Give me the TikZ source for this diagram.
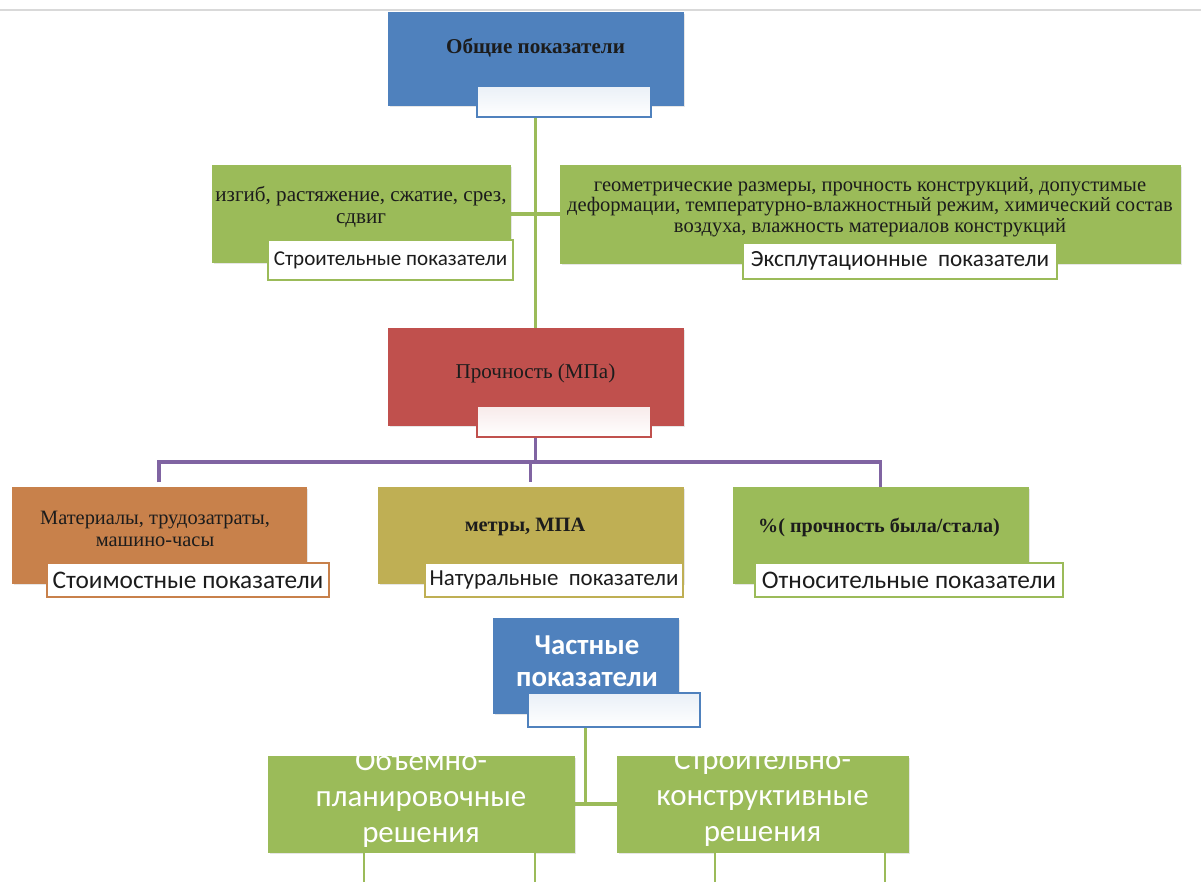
\documentclass[tikz,border=0pt]{standalone}
\usepackage{fontspec}
\setmainfont{Liberation Serif}
\newfontfamily\calib{Carlito}
\usepackage{xcolor}
\usetikzlibrary{shadows}
\definecolor{hdblue}{HTML}{4F81BD}
\definecolor{hdred}{HTML}{C0504D}
\definecolor{lfgreen}{HTML}{9BBB59}
\definecolor{brpurple}{HTML}{8064A2}
\definecolor{lfbrown}{HTML}{C8814B}
\definecolor{lfolive}{HTML}{BFAF54}
\definecolor{txtdark}{HTML}{1C1C1C}

\begin{document}
\begin{tikzpicture}[
  x=0.025cm,
  y=-0.025cm,
  sz/.style 2 args={minimum width=#1*0.025cm, minimum height=#2*0.025cm},
  box/.style={draw=#1, fill=#1, line width=0.6pt, inner sep=0pt,
    drop shadow={shadow xshift=1.2pt, shadow yshift=-1.2pt, opacity=0.2}},
  tab/.style={draw=#1, line width=1.6pt, top color=#1!12, bottom color=white, inner sep=0pt},
  lbl/.style={draw=#1, line width=1.5pt, fill=white, inner sep=0pt, text=txtdark},
  txt/.style={align=center, text=txtdark, inner sep=0pt},
  wtxt/.style={align=center, text=white, inner sep=0pt},
  link/.style={draw=#1, line width=2.2pt}
]
  \useasboundingbox (0,0) rectangle (1201,881);
  \clip (0,0) rectangle (1201,881);
  \draw[gray!30, line width=0.8pt] (0,10) -- (1201,10);

  \node[box=hdblue, sz={295}{93}] (gen) at (535.5,58.5) {};
  \node[tab=hdblue, sz={174}{31}] (gentab) at (564,101.5) {};
  \node[txt, font=\fontsize{15}{18}\selectfont\bfseries] (gentxt) at (535.5,48) {Общие показатели};

  \node[box=lfgreen, sz={298}{97}] (bld) at (361,214) {};
  \node[txt, font=\fontsize{15}{16}\selectfont] (bldtxt) at (361,207) {изгиб, растяжение, сжатие, срез,\\сдвиг};
  \node[lbl=lfgreen, sz={245}{40}, font=\calib\fontsize{15}{18}\selectfont] (bldlbl) at (390.5,260) {Строительные показатели};

  \node[box=lfgreen, sz={620}{98}] (exp) at (870,214) {};
  \node[txt, font=\fontsize{14.6}{14.6}\selectfont] (exptxt) at (870,207) {геометрические размеры, прочность конструкций, допустимые\\деформации, температурно-влажностный режим, химический состав\\воздуха, влажность материалов конструкций};
  \node[lbl=lfgreen, sz={314}{36}, font=\calib\fontsize{16.5}{19}\selectfont] (explbl) at (900,261) {Эксплутационные\ \ показатели};

  \node[box=hdred, sz={295}{97}] (str) at (535.5,376.5) {};
  \node[tab=hdred, sz={174}{31}] (strtab) at (564,421.5) {};
  \node[txt, font=\fontsize{15}{18}\selectfont] (strtxt) at (535.5,373) {Прочность (МПа)};

  \node[box=lfbrown, sz={294}{96}] (cost) at (159,535) {};
  \node[txt, font=\fontsize{14.5}{16}\selectfont] (costtxt) at (155,529) {Материалы, трудозатраты,\\машино-часы};
  \node[lbl=lfbrown, sz={282}{34}, font=\calib\fontsize{18}{21}\selectfont] (costlbl) at (188,580) {Стоимостные показатели};

  \node[box=lfolive, sz={305}{96}] (nat) at (530.5,535) {};
  \node[txt, font=\fontsize{14.5}{18}\selectfont\bfseries] (nattxt) at (525,527) {метры, МПА};
  \node[lbl=lfolive, sz={258}{34}, font=\calib\fontsize{16.3}{20}\selectfont] (natlbl) at (554,580) {Натуральные\ \ показатели};

  \node[box=lfgreen, sz={295}{96}] (rel) at (880.5,535) {};
  \node[txt, font=\fontsize{14.3}{18}\selectfont\bfseries] (reltxt) at (879,527) {\%( прочность была/стала)};
  \node[lbl=lfgreen, sz={308}{34}, font=\calib\fontsize{18}{21}\selectfont] (rellbl) at (909,580) {Относительные показатели};

  \node[box=hdblue, sz={185}{95}] (part) at (585.5,665.5) {};
  \node[tab=hdblue, sz={172}{34}] (parttab) at (614,710) {};
  \node[wtxt, font=\calib\bfseries\fontsize{20.5}{23}\selectfont] (parttxt) at (587,661) {Частные\\показатели};

  \node[box=lfgreen, sz={306}{96}] (plan) at (421,804) {};
  \node[lbl=lfgreen, sz={171}{48}] (plantab) at (449.5,876) {};
  \node[wtxt, font=\calib\fontsize{22}{25.6}\selectfont] (plantxt) at (421,798) {Объемно-\\планировочные\\решения};

  \node[box=lfgreen, sz={291}{96}] (cons) at (762.5,804) {};
  \node[lbl=lfgreen, sz={170}{48}] (constab) at (800,876) {};
  \node[wtxt, font=\calib\fontsize{22}{25.6}\selectfont] (constxt) at (762.5,798) {Строительно-\\конструктивные\\решения};

  \coordinate (fork) at (535.5,462);
  \coordinate (split) at (585.5,804);

  \draw[link=lfgreen] (gen.south |- gentab.south) -- (str.north);
  \draw[link=lfgreen] (bld.east) -- (exp.west);
  \draw[link=brpurple] (str.south |- strtab.south) -- (fork);
  \draw[link=brpurple, shorten <=3pt] (cost.north) -- (cost.north |- fork) -- (rel.north |- fork) -- (rel.north);
  \draw[link=brpurple, shorten >=3pt] (nat.north |- fork) -- (nat.north);
  \draw[link=lfgreen] (part.south |- parttab.south) -- (split);
  \draw[link=lfgreen] (plan.east) -- (cons.west);
\end{tikzpicture}
\end{document}
